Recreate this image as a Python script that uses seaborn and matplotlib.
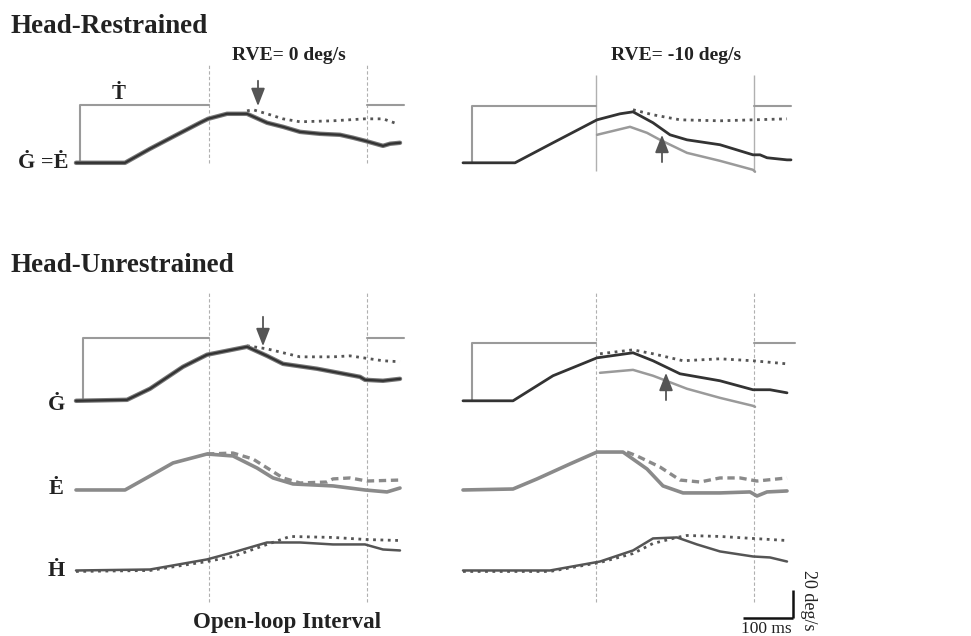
import numpy as np
import pandas as pd
import matplotlib
matplotlib.use("Agg")
import matplotlib.pyplot as plt
import seaborn as sns

sns.set_theme(style="white")
plt.rcParams["font.family"] = ["Liberation Serif", "DejaVu Serif"]

# ---------------- data (time in ms from trace start, velocity in deg/s) -------------
open_loop_ms = [266, 582]

# Head-restrained, RVE = 0 deg/s
hr0_gaze_t = [0, 98, 148, 194, 248, 264, 302, 342, 382, 414, 448, 488, 528, 554, 578, 614, 628, 648]
hr0_gaze_v = [0, 0, 10, 18.6, 28.6, 31.4, 35, 35, 28.6, 25.7, 22.1, 20.7, 20, 17.9, 15.7, 12.1, 13.6, 14.3]
hr0_ctrl_t = [342, 354, 382, 414, 448, 514, 578, 614, 642]
hr0_ctrl_v = [37.1, 37.9, 35, 31.4, 29.3, 30, 31.4, 31.4, 27.9]
hr0_target = 41.4
hr0_onset = 8

# Head-restrained, RVE = -10 deg/s
hr10_gaze_t = [0, 104, 180, 268, 314, 340, 380, 414, 448, 514, 580, 594, 608, 648, 656]
hr10_gaze_v = [0, 0, 14.3, 30.7, 35, 36.4, 28.6, 20, 16.4, 12.9, 5.7, 5.7, 3.6, 2.1, 2.1]
hr10_rve_t = [268, 334, 368, 394, 448, 514, 580, 584]
hr10_rve_v = [20, 25.7, 21.4, 16.4, 7.1, 1.4, -5, -6.4]
hr10_ctrl_t = [340, 380, 434, 514, 648]
hr10_ctrl_v = [37.9, 34.3, 30.7, 30, 31.4]
hr10_target = 40.7
hr10_onset = 18

# Head-unrestrained, RVE = 0 deg/s
hu0_gaze_t = [0, 102, 148, 214, 262, 342, 382, 414, 482, 568, 578, 614, 648]
hu0_gaze_v = [0, 0.7, 8.6, 24.3, 32.9, 38.6, 32.1, 26.4, 22.9, 17.1, 15, 14.3, 15.7]
hu0_gctrl_t = [342, 382, 448, 514, 548, 614, 648]
hu0_gctrl_v = [39.3, 37.1, 31.4, 31.4, 32.1, 28.6, 27.9]
hu0_eye_t = [0, 98, 148, 194, 262, 314, 362, 394, 434, 514, 578, 622, 648]
hu0_eye_v = [0, 0, 10, 19.3, 25.7, 24.3, 15.7, 8.6, 4.3, 2.9, 0, -1.4, 1.4]
hu0_ectrl_t = [262, 314, 354, 414, 448, 502, 514, 548, 582, 648]
hu0_ectrl_v = [25.7, 26.4, 22.1, 8.6, 5, 5.7, 7.9, 8.6, 6.4, 7.1]
hu0_head_t = [0, 148, 262, 314, 382, 448, 514, 578, 614, 648]
hu0_head_v = [0, 0.7, 7.9, 12.9, 20, 20, 18.6, 18.6, 15, 14.3]
hu0_hctrl_t = [0, 148, 262, 314, 382, 428, 514, 582, 648]
hu0_hctrl_v = [-0.7, 0, 6.4, 10, 18.6, 24.3, 23.6, 22.1, 21.4]
hu0_target = 45
hu0_onset = 14

# Head-unrestrained, RVE = -10 deg/s
hu10_gaze_t = [0, 100, 180, 268, 340, 380, 434, 514, 580, 614, 648]
hu10_gaze_v = [0, 0, 17.9, 30.7, 34.3, 28.6, 19.3, 14.3, 7.9, 7.9, 5.7]
hu10_rve_t = [274, 340, 380, 448, 514, 580, 584]
hu10_rve_v = [20, 22.1, 17.9, 8.6, 2.1, -3.6, -4.3]
hu10_gctrl_t = [274, 340, 380, 440, 514, 580, 648]
hu10_gctrl_v = [33.6, 36.4, 33.6, 28.6, 30, 28.6, 26.4]
hu10_eye_t = [0, 100, 148, 214, 268, 320, 368, 400, 440, 514, 574, 588, 608, 648]
hu10_eye_v = [0, 0.7, 7.9, 18.6, 27.1, 27.1, 15, 2.9, -2.1, -2.1, -1.4, -4.3, -1.4, -0.7]
hu10_ectrl_t = [328, 348, 394, 434, 474, 514, 554, 588, 648]
hu10_ectrl_v = [27.1, 24.3, 16.4, 7.1, 5.7, 8.6, 8.6, 6.4, 8.6]
hu10_head_t = [0, 174, 274, 340, 380, 428, 468, 514, 580, 614, 648]
hu10_head_v = [0, 0, 6.4, 14.3, 22.9, 23.6, 18.6, 13.6, 10, 9.3, 6.4]
hu10_hctrl_t = [0, 174, 274, 340, 380, 428, 448, 514, 648]
hu10_hctrl_v = [-0.7, -0.7, 5.7, 12.1, 19.3, 23.6, 25, 24.3, 21.4]
hu10_target = 41.4
hu10_onset = 18

trace_end_ms = 656
scale_ms = 100
scale_degs = 20

# ---------------- layout ----------------
W, H = 971, 636
PX_MS = 0.5      # pixels per ms
PX_DEG = 1.4     # pixels per deg/s
fig = plt.figure(figsize=(W / 100, H / 100), dpi=100)
fig.patch.set_facecolor("white")

# vertical offsets (deg/s units) of trace baselines
OFF_TOP = 338.0
OFF_G = 168.0
OFF_E = 104.3
OFF_H = 46.8

DARK = "#333333"
GREY = "#9a9a9a"
EYE = "#8a8a8a"
HEAD = "#555555"
VL = "#b0b0b0"
TXT = "#222222"


def make_axes(px_left, px_right, px_trace0):
    ax = fig.add_axes([px_left / W, 0, (px_right - px_left) / W, 1])
    ax.set_xlim((px_left - px_trace0) / PX_MS, (px_right - px_trace0) / PX_MS)
    ax.set_ylim(0, H / PX_DEG)
    ax.set_axis_off()
    return ax


def line(ax, t, v, off, color, lw, ls="-"):
    df = pd.DataFrame({"t": t, "v": np.asarray(v) + off})
    sns.lineplot(data=df, x="t", y="v", ax=ax, color=color, linewidth=lw,
                 linestyle=ls, sort=False, estimator=None, legend=False)


def target(ax, onset, val, off, end_after):
    tt = [onset, onset, open_loop_ms[0]]
    vv = [0, val, val]
    line(ax, tt, vv, off, GREY, 1.5)
    line(ax, [open_loop_ms[1], end_after], [val, val], off, GREY, 1.5)


def arrow(ax, t, v_from, v_to):
    ax.annotate("", xy=(t, v_to), xytext=(t, v_from),
                arrowprops=dict(arrowstyle="-|>,head_length=0.9,head_width=0.35",
                                color="#555555", lw=1.3, shrinkA=0, shrinkB=0))


axL = make_axes(60, 420, 76)
axR = make_axes(440, 830, 463)


def ypx(py):
    return (H - py) / PX_DEG


# open-loop interval markers
for t0 in open_loop_ms:
    axL.vlines(t0, ypx(163), ypx(65), colors=VL, linewidth=0.8, linestyles=(0, (3, 2)))
    axL.vlines(t0, ypx(602), ypx(292), colors=VL, linewidth=0.8, linestyles=(0, (3, 2)))
    axR.vlines(t0, ypx(171), ypx(75), colors=VL, linewidth=1.0)
    axR.vlines(t0, ypx(602), ypx(292), colors=VL, linewidth=0.8, linestyles=(0, (3, 2)))

# --- Head-restrained, RVE 0
target(axL, hr0_onset, hr0_target, OFF_TOP, trace_end_ms)
line(axL, hr0_ctrl_t, hr0_ctrl_v, OFF_TOP, "#555555", 2.0, ":")
line(axL, hr0_gaze_t, hr0_gaze_v, OFF_TOP, "#777777", 3.2)
line(axL, hr0_gaze_t, hr0_gaze_v, OFF_TOP, DARK, 1.6)
arrow(axL, 364, OFF_TOP + 58.6, OFF_TOP + 40.5)

# --- Head-restrained, RVE -10
target(axR, hr10_onset, hr10_target, OFF_TOP, trace_end_ms)
line(axR, hr10_ctrl_t, hr10_ctrl_v, OFF_TOP, "#555555", 2.0, ":")
line(axR, hr10_rve_t, hr10_rve_v, OFF_TOP, GREY, 1.8)
line(axR, hr10_gaze_t, hr10_gaze_v, OFF_TOP, DARK, 2.0)
arrow(axR, 398, OFF_TOP + 0.5, OFF_TOP + 20)

# --- Head-unrestrained, RVE 0
target(axL, hu0_onset, hu0_target, OFF_G, trace_end_ms)
line(axL, hu0_gctrl_t, hu0_gctrl_v, OFF_G, "#555555", 2.0, ":")
line(axL, hu0_gaze_t, hu0_gaze_v, OFF_G, "#777777", 3.2)
line(axL, hu0_gaze_t, hu0_gaze_v, OFF_G, DARK, 1.6)
arrow(axL, 374, OFF_G + 60, OFF_G + 39)
line(axL, hu0_ectrl_t, hu0_ectrl_v, OFF_E, EYE, 2.4, (0, (2.2, 1.4)))
line(axL, hu0_eye_t, hu0_eye_v, OFF_E, EYE, 2.6)
line(axL, hu0_hctrl_t, hu0_hctrl_v, OFF_H, "#555555", 2.0, ":")
line(axL, hu0_head_t, hu0_head_v, OFF_H, HEAD, 1.8)

# --- Head-unrestrained, RVE -10
target(axR, hu10_onset, hu10_target, OFF_G, trace_end_ms + 8)
line(axR, hu10_gctrl_t, hu10_gctrl_v, OFF_G, "#555555", 2.0, ":")
line(axR, hu10_rve_t, hu10_rve_v, OFF_G, GREY, 1.8)
line(axR, hu10_gaze_t, hu10_gaze_v, OFF_G, DARK, 2.0)
arrow(axR, 406, OFF_G + 0.5, OFF_G + 20)
line(axR, hu10_ectrl_t, hu10_ectrl_v, OFF_E, EYE, 2.4, (0, (2.2, 1.4)))
line(axR, hu10_eye_t, hu10_eye_v, OFF_E, EYE, 2.6)
line(axR, hu10_hctrl_t, hu10_hctrl_v, OFF_H, "#555555", 2.0, ":")
line(axR, hu10_head_t, hu10_head_v, OFF_H, HEAD, 1.8)

# scale bar
sx1 = 660
sy = ypx(618)
axR.plot([sx1 - scale_ms, sx1], [sy, sy], color="#111111", linewidth=1.8, solid_capstyle="butt")
axR.plot([sx1, sx1], [sy, sy + scale_degs], color="#111111", linewidth=1.8, solid_capstyle="butt")


# ---------------- text ----------------
def ftext(px, py, s, **kw):
    fig.text(px / W, 1 - py / H, s, color=TXT, **kw)


ftext(10, 33, "Head-Restrained", fontsize=19.5, fontweight="bold", ha="left", va="baseline")
ftext(10, 272, "Head-Unrestrained", fontsize=19.5, fontweight="bold", ha="left", va="baseline")
ftext(289, 60, "RVE= 0 deg/s", fontsize=14, fontweight="bold", ha="center", va="baseline")
ftext(676, 60, "RVE= -10 deg/s", fontsize=14, fontweight="bold", ha="center", va="baseline")
ftext(119, 99, "\u1E6A", fontsize=15, fontweight="bold", ha="center", va="baseline")
ftext(68, 168, "\u0120 =\u0116", fontsize=16, fontweight="bold", ha="right", va="baseline")
ftext(56, 410, "\u0120", fontsize=16, fontweight="bold", ha="center", va="baseline")
ftext(56, 494, "\u0116", fontsize=16, fontweight="bold", ha="center", va="baseline")
ftext(56, 576, "\u1E22", fontsize=16, fontweight="bold", ha="center", va="baseline")
ftext(287, 628, "Open-loop Interval", fontsize=16.5, fontweight="bold", ha="center", va="baseline")
ftext(766, 633, "100 ms", fontsize=12.5, ha="center", va="baseline")
ftext(808, 600, "20 deg/s", fontsize=13, ha="center", va="center", rotation=270)

fig.savefig("out.png", dpi=100, facecolor="white")
